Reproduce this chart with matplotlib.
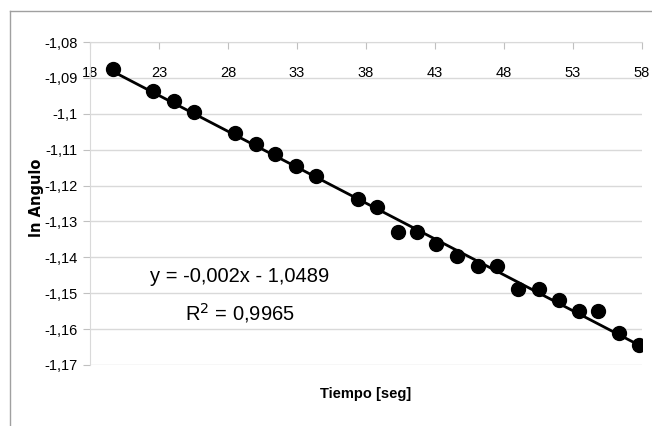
import matplotlib
matplotlib.use("Agg")
import matplotlib.pyplot as plt
import numpy as np
from matplotlib.ticker import FixedLocator, FuncFormatter

# Data
tiempo = [19.7, 22.6, 24.1, 25.5, 28.5, 30.0, 31.4, 32.9, 34.4, 37.4, 38.8,
          40.3, 41.7, 43.1, 44.6, 46.1, 47.5, 49.0, 50.5, 52.0, 53.4, 54.8,
          56.3, 57.8]
ln_angulo = [-1.0875, -1.0936, -1.0964, -1.0995, -1.1053, -1.1084, -1.1112,
             -1.1145, -1.1173, -1.1237, -1.1260, -1.1329, -1.1329, -1.1363,
             -1.1396, -1.1424, -1.1424, -1.1488, -1.1488, -1.1519, -1.1549,
             -1.1549, -1.1611, -1.1644]
slope = -0.002
intercept = -1.0489
x_ticks = [18, 23, 28, 33, 38, 43, 48, 53, 58]
y_ticks = [-1.08, -1.09, -1.10, -1.11, -1.12, -1.13, -1.14, -1.15, -1.16, -1.17]
eq_text = "y = -0,002x - 1,0489"
r2_text = "R$^2$ = 0,9965"
x_label = "Tiempo [seg]"
y_label = "ln Angulo"

sans = ["Liberation Sans", "DejaVu Sans"]

fig = plt.figure(figsize=(6.52, 4.26), dpi=100)
fig.patch.set_facecolor("white")

# outer chart border (top and left visible)
fig.add_artist(plt.Line2D([10/652, 1.0], [1-11/426, 1-11/426], color="#a0a0a0", lw=1.0,
                          transform=fig.transFigure))
fig.add_artist(plt.Line2D([10/652, 10/652], [0.0, 1-11/426], color="#a0a0a0", lw=1.0,
                          transform=fig.transFigure))

ax = fig.add_axes([90/652, 1-365/426, (642-90)/652, (365-42)/426])
ax.set_xlim(18, 58)
ax.set_ylim(-1.17, -1.08)

for yv in y_ticks:
    ax.axhline(yv, color="#d9d9d9", lw=1.0, zorder=0)

# trendline
xs = np.array([tiempo[0], tiempo[-1]])
ax.plot(xs, slope * xs + intercept, color="black", lw=2.0, zorder=2)
ax.plot(tiempo, ln_angulo, "o", color="black", ms=10, zorder=3)

for s in ["right", "bottom"]:
    ax.spines[s].set_visible(False)
ax.spines["top"].set_color("#d9d9d9")
ax.spines["left"].set_color("#d9d9d9")

ax.xaxis.set_ticks_position("top")
ax.xaxis.set_major_locator(FixedLocator(x_ticks))
ax.yaxis.set_major_locator(FixedLocator(y_ticks))
ax.tick_params(axis="x", direction="in", length=5, color="#c0c0c0", pad=-27,
               labelsize=10.5, labeltop=True, labelbottom=False)
ax.tick_params(axis="y", direction="out", length=5, color="#c0c0c0", pad=4,
               labelsize=10.5)

def fmt_y(v, pos):
    s = ("%.2f" % v).rstrip("0").rstrip(".")
    return s.replace(".", ",")

ax.yaxis.set_major_formatter(FuncFormatter(fmt_y))
ax.xaxis.set_major_formatter(FuncFormatter(lambda v, p: "%d" % v))
for lab in ax.get_xticklabels() + ax.get_yticklabels():
    lab.set_family(sans)

fig.text(240/652, 1-276/426, eq_text, family=sans, fontsize=14.5,
         ha="center", va="center")
fig.text(240/652, 1-313/426, r2_text, family=sans, fontsize=14.5,
         ha="center", va="center")

fig.text(366/652, 1-394/426, x_label, family=sans, fontsize=10.5,
         fontweight="bold", ha="center", va="center")
fig.text(36/652, 1-198/426, y_label, family=["DejaVu Sans"], fontsize=10.5,
         fontweight="bold", ha="center", va="center", rotation=90)

fig.savefig("out.png", dpi=100)
